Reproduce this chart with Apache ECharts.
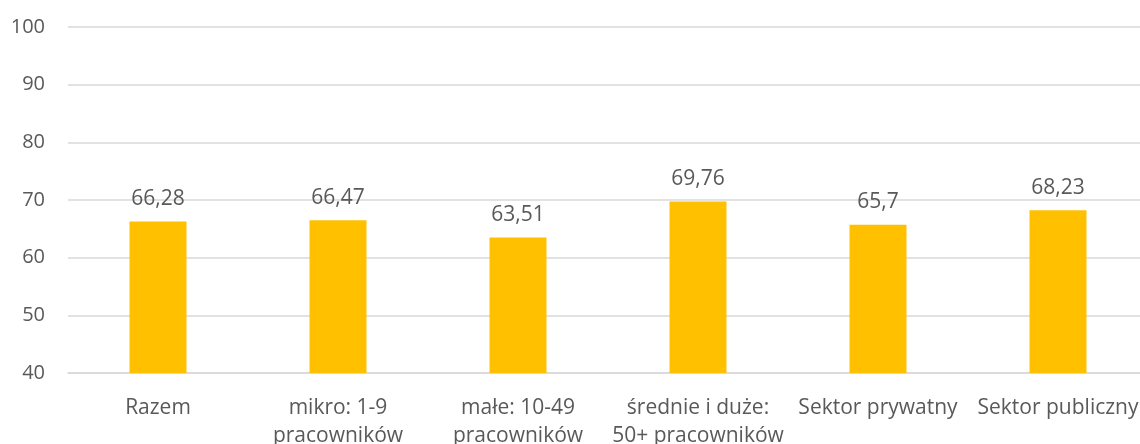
<!DOCTYPE html>
<html>
<head>
<meta charset="utf-8">
<script src="https://cdn.jsdelivr.net/npm/echarts@6/dist/echarts.min.js"></script>
<style>
  html, body { margin: 0; padding: 0; background: #fff; }
  #chart { width: 1140px; height: 444px; }
</style>
</head>
<body>
<div id="chart"></div>
<script>
// Category names (line breaks as they appear under the axis)
const categories = [
  'Razem',
  'mikro: 1-9\npracowników',
  'małe: 10-49\npracowników',
  'średnie i duże:\n50+ pracowników',
  'Sektor prywatny',
  'Sektor publiczny'
];
// Values per category
const values = [66.28, 66.47, 63.51, 69.76, 65.7, 68.23];
// Value axis range
const yMin = 40;
const yMax = 100;
const yStep = 10;

const textColor = '#595959';
const fontFamily = '"Open Sans", "Noto Sans", sans-serif';

const chart = echarts.init(document.getElementById('chart'), null, { renderer: 'canvas' });
chart.setOption({
  animation: false,
  backgroundColor: '#ffffff',
  grid: {
    left: 68, right: -8, top: 27, bottom: 71,
    containLabel: false,
    outerBoundsMode: 'none'
  },
  xAxis: {
    type: 'category',
    data: categories,
    axisLine: { show: true, lineStyle: { color: '#d9d9d9', width: 1.5 } },
    axisTick: { show: false },
    axisLabel: {
      color: textColor,
      fontFamily: fontFamily,
      fontSize: 21,
      lineHeight: 28,
      margin: 21,
      interval: 0
    }
  },
  yAxis: {
    type: 'value',
    min: yMin,
    max: yMax,
    interval: yStep,
    axisLine: { show: false },
    axisTick: { show: false },
    splitLine: { lineStyle: { color: '#d9d9d9', width: 1.5 } },
    axisLabel: {
      color: textColor,
      fontFamily: fontFamily,
      fontSize: 20,
      margin: 23
    }
  },
  series: [{
    type: 'bar',
    data: values,
    barWidth: 57,
    itemStyle: { color: '#FFC000' },
    label: {
      show: true,
      position: 'top',
      distance: 12,
      color: textColor,
      fontFamily: fontFamily,
      fontSize: 21,
      formatter: p => String(p.value).replace('.', ',')
    }
  }]
});
</script>
</body>
</html>
